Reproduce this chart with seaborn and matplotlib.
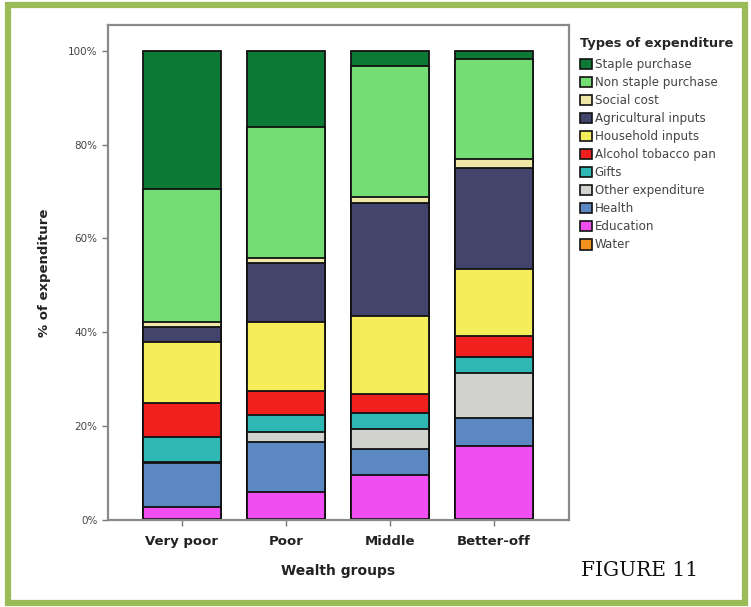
import matplotlib
matplotlib.use("Agg")
import matplotlib.pyplot as plt
import matplotlib.patches as mpatches
import numpy as np
import pandas as pd
import seaborn as sns

# wealth groups on the x axis
groups = ["Very poor", "Poor", "Middle", "Better-off"]

# expenditure types, top of the stack first
types = ["Staple purchase", "Non staple purchase", "Social cost", "Agricultural inputs",
         "Household inputs", "Alcohol tobacco pan", "Gifts", "Other expenditure",
         "Health", "Education", "Water"]

# % of expenditure per group
staple = [29.5, 16.3, 3.3, 1.8]
non_staple = [28.2, 27.9, 27.9, 21.3]
social_cost = [1.1, 1.0, 1.3, 1.9]
agri_inputs = [3.2, 12.5, 24.0, 21.5]
household_inputs = [13.1, 14.9, 16.6, 14.3]
alcohol = [7.3, 5.0, 4.2, 4.4]
gifts = [5.2, 3.6, 3.4, 3.5]
other = [0.3, 2.1, 4.2, 9.6]
health = [9.4, 10.8, 5.5, 5.9]
education = [2.5, 5.7, 9.4, 15.6]
water = [0.2, 0.2, 0.2, 0.2]

colors = ["#0c7a34", "#74de74", "#efe7a6", "#42446c", "#f5ed5a", "#f0201f",
          "#2fb7b4", "#d2d2cf", "#5b88c0", "#f04ef0", "#f0921e"]

values = [staple, non_staple, social_cost, agri_inputs, household_inputs, alcohol,
          gifts, other, health, education, water]

df = pd.DataFrame(values, index=types, columns=groups)

sns.set_style("white")
plt.rcParams["font.family"] = ["DejaVu Sans"]

fig = plt.figure(figsize=(7.51, 6.07), dpi=100)
ax = fig.add_axes([108 / 751, 1 - 520 / 607, 461 / 751, 495 / 607])

# stacked bars: draw cumulative totals from the top layer down
cum = df.iloc[::-1].cumsum().iloc[::-1]
for t, c in zip(types, colors):
    d = pd.DataFrame({"group": groups, "pct": cum.loc[t].values})
    sns.barplot(data=d, x="group", y="pct", color=c, saturation=1, width=0.75,
                edgecolor="#111111", linewidth=1.3, ax=ax)

ax.set_xlim(-0.71, 3.72)
ax.set_ylim(0, 105.5)
ax.set_yticks([0, 20, 40, 60, 80, 100])
ax.set_yticklabels([f"{v}%" for v in [0, 20, 40, 60, 80, 100]], fontsize=7.5, color="#444444")
ax.set_xticks(range(4))
ax.set_xticklabels(groups, fontsize=9.5, fontweight="bold", color="#222222")
ax.tick_params(axis="both", which="both", direction="out", length=4, width=1,
               color="#777777", left=True, bottom=True)
ax.tick_params(axis="x", pad=7)
ax.set_xlabel("Wealth groups", fontsize=10, fontweight="bold", color="#222222", labelpad=11)
ax.set_ylabel("% of expenditure", fontsize=9.5, fontweight="bold", color="#222222", labelpad=12)
for s in ax.spines.values():
    s.set_color("#8a8a8a")
    s.set_linewidth(1.6)

handles = [mpatches.Patch(facecolor=c, edgecolor="#111111", linewidth=1.2, label=t)
           for t, c in zip(types, colors)]
leg = fig.legend(handles=handles, title="Types of expenditure", loc="upper left",
                 bbox_to_anchor=(569 / 751, 1 - 26 / 607), frameon=False,
                 fontsize=8.6, title_fontsize=9.3, handlelength=1.0, handleheight=1.0,
                 handletextpad=0.25, labelspacing=0.42, alignment="left",
                 labelcolor="#444444")
leg.get_title().set_fontweight("bold")
leg._legend_box.sep = 6  # a bit more room under the title

fig.text(640 / 751, 1 - 571 / 607, "FIGURE 11", fontsize=14.5, family="DejaVu Serif",
         ha="center", va="center", color="#111111")

# green page frame
fig.patches.append(mpatches.Rectangle((8 / 751, 4 / 607), 737 / 751, 598 / 607,
                                      transform=fig.transFigure, fill=False,
                                      edgecolor="#9bbb59", linewidth=4.5))

fig.savefig("out.png", dpi=100)
